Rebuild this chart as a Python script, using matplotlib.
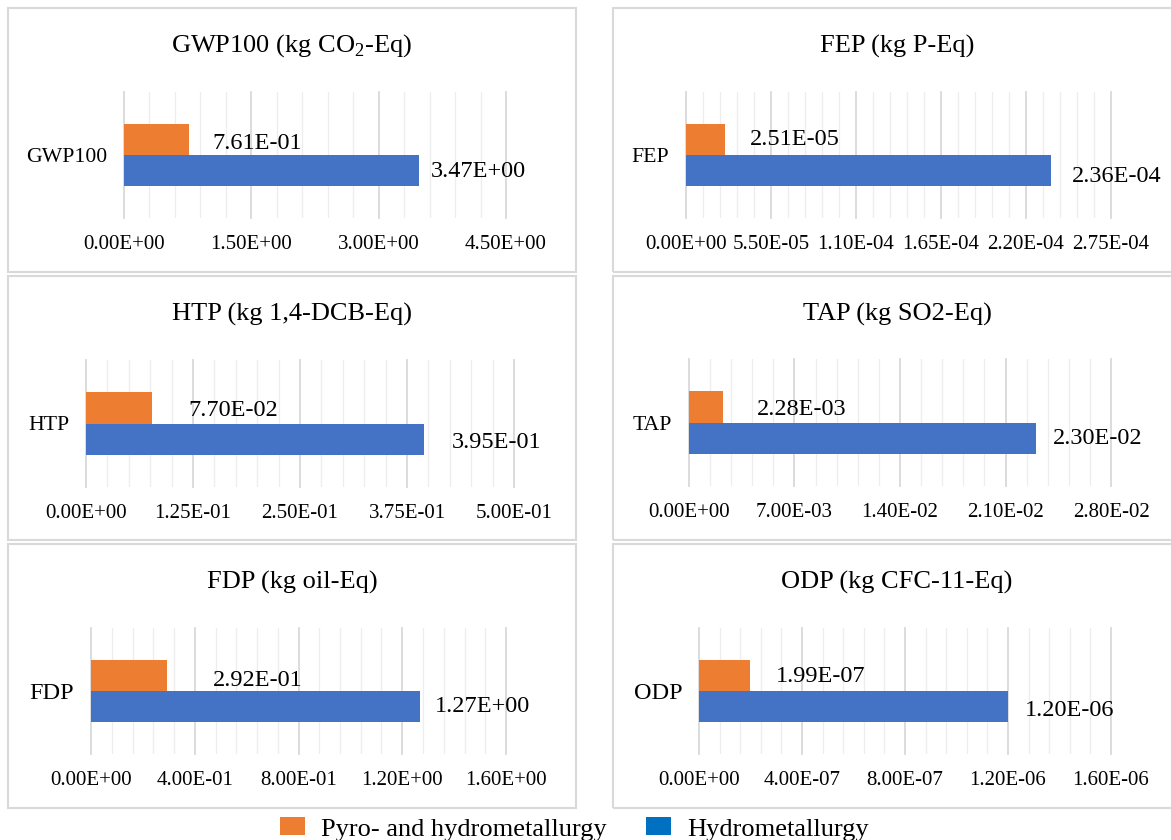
import matplotlib
matplotlib.use("Agg")
import matplotlib.pyplot as plt
from matplotlib.patches import Rectangle, Patch
from matplotlib.ticker import MultipleLocator, FuncFormatter

plt.rcParams["font.family"] = ["Liberation Serif", "DejaVu Serif"]
plt.rcParams["mathtext.fontset"] = "custom"
plt.rcParams["mathtext.rm"] = "Liberation Serif"

# Impact categories and their results per process route
categories = ["GWP100", "FEP", "HTP", "TAP", "FDP", "ODP"]
titles = [
    r"GWP100 (kg CO$_\mathregular{2}$-Eq)",
    "FEP (kg P-Eq)",
    "HTP (kg 1,4-DCB-Eq)",
    "TAP (kg SO2-Eq)",
    "FDP (kg oil-Eq)",
    "ODP (kg CFC-11-Eq)",
]
pyro_hydro = [7.61e-01, 2.51e-05, 7.70e-02, 2.28e-03, 2.92e-01, 1.99e-07]
hydro = [3.47e+00, 2.36e-04, 3.95e-01, 2.30e-02, 1.27e+00, 1.20e-06]
major_step = [1.50e+00, 5.50e-05, 1.25e-01, 7.00e-03, 4.00e-01, 4.00e-07]
axis_max = [4.50e+00, 2.75e-04, 5.00e-01, 2.80e-02, 1.60e+00, 1.60e-06]
series_names = ["Pyro- and hydrometallurgy", "Hydrometallurgy"]

ORANGE = "#ED7D31"
BLUE = "#4472C4"
LEGEND_BLUE = "#0070C0"
BORDER = "#D9D9D9"

W, H = 1171, 840
fig = plt.figure(figsize=(W / 100, H / 100), dpi=100)

# panel frames (left, top, right, bottom) in pixels
frames = [
    (8, 8, 576, 272), (613, 8, 1181, 272),
    (8, 276, 576, 540), (613, 276, 1181, 540),
    (8, 544, 576, 808), (613, 544, 1181, 808),
]
# plot areas (left, top, right, bottom) in pixels
plot_areas = [
    (124, 92, 506, 218), (686, 92, 1111, 218),
    (86, 360, 514, 487), (689, 359, 1111, 486),
    (91, 628, 506, 754), (699, 628, 1111, 754),
]
# data label offsets in pixels: (orange dx, orange dy, blue dx, blue dy)
label_offsets = [
    (24, 4, 12, 1), (25, 0, 21, 6),
    (36, 3, 28, 3), (34, 3, 17, 0),
    (46, 5, 14, 0), (26, 1, 17, 4),
]
category_size = [15.7, 15.7, 15.7, 15.7, 17.5, 17.5]

for (fl, ft, fr, fb) in frames:
    fig.patches.append(Rectangle((fl / W, 1 - fb / H), (fr - fl) / W, (fb - ft) / H,
                                 transform=fig.transFigure, fill=False,
                                 edgecolor=BORDER, linewidth=1.5, zorder=0))

bar_h = 0.246
for i, cat in enumerate(categories):
    l, t, r, b = plot_areas[i]
    ax = fig.add_axes([l / W, 1 - b / H, (r - l) / W, (b - t) / H])
    ax.barh([bar_h / 2], [pyro_hydro[i]], height=bar_h, color=ORANGE, zorder=3)
    ax.barh([-bar_h / 2], [hydro[i]], height=bar_h, color=BLUE, zorder=3)
    ax.set_xlim(0, axis_max[i])
    ax.set_ylim(-0.5, 0.5)
    ax.xaxis.set_major_locator(MultipleLocator(major_step[i]))
    ax.xaxis.set_minor_locator(MultipleLocator(major_step[i] / 5))
    ax.xaxis.set_major_formatter(FuncFormatter(lambda v, p: f"{v:.2E}"))
    ax.set_yticks([0])
    ax.set_yticklabels([cat])
    ax.tick_params(axis="x", which="both", length=0, pad=12, labelsize=15)
    ax.tick_params(axis="y", length=0, pad=12, labelsize=category_size[i])
    ax.grid(True, axis="x", which="major", color="#D9D9D9", linewidth=1.3, zorder=0)
    ax.grid(True, axis="x", which="minor", color="#EDEDED", linewidth=0.9, zorder=0)
    for gl in ax.get_xgridlines():
        gl.set_clip_on(False)
    for s in ax.spines.values():
        s.set_visible(False)
    ax.set_facecolor("none")

    odx, ody, bdx, bdy = label_offsets[i]
    ax.annotate(f"{pyro_hydro[i]:.2E}", xy=(pyro_hydro[i], bar_h / 2),
                xytext=(odx * 0.72, -ody * 0.72), textcoords="offset points",
                ha="left", va="center", fontsize=17.5)
    ax.annotate(f"{hydro[i]:.2E}", xy=(hydro[i], -bar_h / 2),
                xytext=(bdx * 0.72, -bdy * 0.72), textcoords="offset points",
                ha="left", va="center", fontsize=17.5)

    fl, ft, fr, fb = frames[i]
    fig.text(((fl + fr) / 2) / W, 1 - (ft + 38) / H, titles[i],
             ha="center", va="center", fontsize=19)

handles = [Patch(facecolor=ORANGE, edgecolor="none", label=series_names[0]),
           Patch(facecolor=LEGEND_BLUE, edgecolor="none", label=series_names[1])]
fig.legend(handles=handles, loc="center left", bbox_to_anchor=(280 / W, 1 - 829 / H),
           ncol=2, frameon=False, fontsize=19, handlelength=0.95, handleheight=0.68,
           handletextpad=0.6, columnspacing=1.5, borderaxespad=0, borderpad=0)

fig.savefig("out.png", dpi=100, facecolor="white")
